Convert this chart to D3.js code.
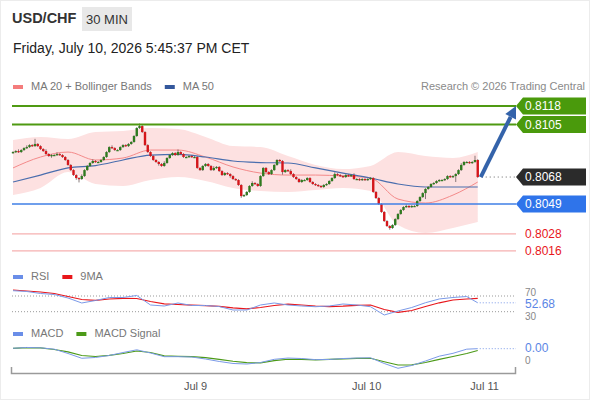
<!DOCTYPE html>
<html>
<head>
<meta charset="utf-8">
<script src="https://cdn.jsdelivr.net/npm/d3@7"></script>
<style>
  body { margin: 0; background: #fff; font-family: "Liberation Sans", Arial, sans-serif; }
</style>
</head>
<body>
<script>
// 30 min candles, closes (open = previous close)
var firstOpen = 0.80850;
var closes = [
  0.80856,0.80863,0.80856,0.80870,0.80884,0.80891,0.80905,0.80898,0.80913,0.80898,
  0.80877,0.80863,0.80842,0.80828,0.80835,0.80835,0.80842,0.80835,0.80821,0.80800,
  0.80765,0.80729,0.80694,0.80673,0.80666,0.80687,0.80729,0.80758,0.80779,0.80793,
  0.80786,0.80786,0.80800,0.80821,0.80856,0.80891,0.80884,0.80870,0.80870,0.80891,
  0.80905,0.80898,0.80913,0.80927,0.80969,0.81025,0.81039,0.80997,0.80905,0.80856,
  0.80828,0.80800,0.80786,0.80772,0.80758,0.80779,0.80814,0.80835,0.80849,0.80835,
  0.80856,0.80842,0.80821,0.80821,0.80828,0.80821,0.80821,0.80744,0.80729,0.80758,
  0.80772,0.80758,0.80729,0.80744,0.80751,0.80722,0.80694,0.80708,0.80701,0.80687,
  0.80666,0.80659,0.80624,0.80546,0.80553,0.80575,0.80617,0.80638,0.80631,0.80617,
  0.80687,0.80744,0.80715,0.80701,0.80729,0.80765,0.80800,0.80793,0.80715,0.80729,
  0.80722,0.80701,0.80680,0.80666,0.80645,0.80659,0.80659,0.80673,0.80645,0.80631,
  0.80624,0.80617,0.80610,0.80624,0.80631,0.80652,0.80673,0.80701,0.80694,0.80687,
  0.80680,0.80694,0.80687,0.80694,0.80666,0.80666,0.80659,0.80666,0.80659,0.80666,
  0.80673,0.80575,0.80532,0.80490,0.80434,0.80370,0.80335,0.80321,0.80342,0.80384,
  0.80420,0.80448,0.80469,0.80476,0.80469,0.80476,0.80476,0.80511,0.80539,0.80567,
  0.80596,0.80610,0.80631,0.80638,0.80652,0.80659,0.80659,0.80666,0.80687,0.80680,
  0.80687,0.80701,0.80729,0.80765,0.80786,0.80786,0.80779,0.80786,0.80800,0.80680
];
// wick lengths beyond the body, in pips
var wickHi = [
  1,1,2,1,1,2,1,1,6,1, 1,1,2,1,1,1,2,1,1,1, 1,1,1,1,1,2,1,1,1,2, 1,1,1,1,1,1,2,1,1,1,
  1,1,1,1,1,1,3,1,1,1, 1,1,1,1,1,2,1,1,1,1, 3,1,1,1,1,1,1,1,1,1, 1,1,1,2,1,1,1,1,1,1,
  1,1,1,1,1,1,1,2,1,1, 1,1,1,1,1,1,1,1,1,1, 1,2,1,1,1,1,1,1,1,1, 1,1,1,1,1,1,1,2,1,1,
  1,1,1,1,2,1,1,1,1,1, 1,1,1,1,1,1,1,1,1,1, 1,1,1,2,1,1,1,1,1,1, 1,1,1,1,1,1,1,1,1,1,
  1,1,1,2,1,1,1,1,5,1
];
var wickLo = [
  1,1,1,1,1,1,1,1,1,1, 1,1,1,1,2,1,1,1,1,1, 1,1,1,2,4,1,1,1,1,1, 1,1,1,1,1,1,1,1,1,1,
  1,1,1,1,1,1,1,1,1,1, 1,1,1,2,1,1,1,1,1,1, 1,1,1,1,1,1,1,1,1,1, 1,1,1,1,1,1,1,1,1,2,
  1,1,1,2,1,1,1,1,1,1, 1,1,1,1,1,1,1,1,3,1, 1,1,1,1,1,1,1,1,1,1, 1,1,1,1,1,1,1,1,1,1,
  1,1,1,1,1,1,1,1,1,1, 1,1,1,1,1,1,1,2,1,1, 1,1,1,1,1,1,1,1,1,1, 7,1,1,1,1,1,1,1,1,1,
  1,7,1,1,1,1,1,1,1,1
];

// MA 20, Bollinger bands and MA 50 read every 10 bars
var bandBars = [0,10,20,30,40,50,60,70,80,90,100,110,120,130,140,150,160,169];
var ma20    = [0.80744,0.80821,0.80856,0.80800,0.80814,0.80870,0.80870,0.80821,0.80751,0.80708,0.80694,0.80694,0.80687,0.80673,0.80525,0.80497,0.80553,0.80645];
var ma50    = [0.80645,0.80694,0.80744,0.80761,0.80800,0.80835,0.80839,0.80821,0.80793,0.80782,0.80779,0.80744,0.80708,0.80673,0.80631,0.80610,0.80610,0.80610];
var bbUpper = [0.80941,0.80962,0.80948,0.80997,0.81004,0.81025,0.81018,0.80962,0.80898,0.80891,0.80828,0.80765,0.80736,0.80758,0.80856,0.80828,0.80814,0.80856];
var bbLower = [0.80553,0.80603,0.80715,0.80631,0.80617,0.80659,0.80680,0.80652,0.80603,0.80582,0.80575,0.80589,0.80603,0.80582,0.80342,0.80286,0.80321,0.80363];

// oscillators read every 5 bars
var oscBars = [0,5,10,15,20,25,30,35,40,45,50,55,60,65,70,75,80,85,90,95,100,105,110,115,120,125,130,135,140,145,150,155,160,165,169];
var rsi   = [83.5,81.5,76.4,73.8,64.9,52.2,58.5,66.2,66.2,71.3,47.1,44.5,52.2,45.8,45.8,43.2,34.3,34.3,47.1,52.2,47.1,44.5,42.7,44.5,49.6,47.1,42.7,21.6,31.8,40.7,52.9,62.4,66.2,68.7,52.68];
var rsiMa = [85.3,82.7,80.2,76.4,68.7,61.1,59.0,62.4,64.1,63.6,56.0,50.1,48.3,46.6,45.3,43.5,39.9,37.4,40.7,45.8,49.1,47.1,44.5,43.0,44.0,46.3,47.1,35.6,28.5,33.1,43.2,52.7,59.8,62.4,64.1];
var macd = [0.000109,0.000119,0.000115,0.000098,0.000044,-0.000016,-0.000006,0.000019,0.000056,0.000090,0.000050,0.000004,0.000004,0.000000,-0.000025,-0.000056,-0.000081,-0.000088,-0.000069,-0.000029,-0.000013,-0.000019,-0.000033,-0.000031,-0.000019,-0.000013,-0.000010,-0.000081,-0.000141,-0.000106,-0.000050,0.000010,0.000046,0.000098,0.000104];
var macdSignal = [0.000109,0.000118,0.000113,0.000094,0.000063,0.000019,0.000006,0.000021,0.000044,0.000075,0.000056,0.000015,0.000009,0.000004,-0.000009,-0.000029,-0.000053,-0.000071,-0.000073,-0.000046,-0.000028,-0.000030,-0.000035,-0.000030,-0.000023,-0.000016,-0.000016,-0.000059,-0.000100,-0.000098,-0.000069,-0.000029,0.000006,0.000044,0.000081];

var resistances = [0.8118, 0.8105];
var support = 0.8049;
var minorSupports = [0.8028, 0.8016];
var lastPrice = 0.8068;

var dateTicks = [66.2, 128.4, 171.3];
var dateLabels = ["Jul 9", "Jul 10", "Jul 11"];

var svg = d3.select("body").append("svg")
    .attr("width", 590)
    .attr("height", 400)
    .style("font-family", "'Liberation Sans', Arial, sans-serif");

svg.append("rect")
    .attr("x", 0.5).attr("y", 0.5)
    .attr("width", 589).attr("height", 399)
    .attr("fill", "#fff")
    .attr("stroke", "#ececec");

var x = d3.scaleLinear().domain([-0.73, 182.55]).range([11, 515]);
var y = d3.scaleLinear().domain([0.8000, 0.8130]).range([273.6, 89.0]);
var yRsi = d3.scaleLinear().domain([30, 70]).range([311.7, 296]);
var yMacd = d3.scaleLinear().domain([-0.0001, 0.0001]).range([365, 349]);
var pip = 0.0001;
var last = closes.length - 1;

// header
svg.append("text").attr("x", 12).attr("y", 23)
    .attr("font-size", 14.5).attr("font-weight", "bold").attr("fill", "#333")
    .text("USD/CHF");
svg.append("rect").attr("x", 82).attr("y", 7).attr("width", 50).attr("height", 24)
    .attr("fill", "#e8e8e8");
svg.append("text").attr("x", 107).attr("y", 24).attr("text-anchor", "middle")
    .attr("font-size", 13).attr("fill", "#333").text("30 MIN");
svg.append("text").attr("x", 13).attr("y", 53)
    .attr("font-size", 14).attr("fill", "#222")
    .text("Friday, July 10, 2026 5:45:37 PM CET");

function legend(items, ly) {
  var lx = 13;
  items.forEach(function(it) {
    svg.append("rect").attr("x", lx).attr("y", ly - 5).attr("width", 10).attr("height", 4)
        .attr("fill", it[1]);
    var t = svg.append("text").attr("x", lx + 18).attr("y", ly)
        .attr("font-size", 11).attr("fill", "#777").text(it[0]);
    lx += 18 + t.node().getComputedTextLength() + 13;
  });
}
legend([["MA 20 + Bollinger Bands", "#f47c7c"], ["MA 50", "#34589c"]], 90);
legend([["RSI", "#6a8ee8"], ["9MA", "#e8161b"]], 280);
legend([["MACD", "#6a8ee8"], ["MACD Signal", "#4c9a18"]], 337);

svg.append("text").attr("x", 585).attr("y", 90).attr("text-anchor", "end")
    .attr("font-size", 11).attr("fill", "#8a8a8a")
    .text("Research \u00a9 2026 Trading Central");

// Bollinger band + moving averages
var band = bandBars.map(function(b, i) { return { b: b, up: bbUpper[i], lo: bbLower[i], m20: ma20[i], m50: ma50[i] }; });
svg.append("path").datum(band)
    .attr("fill", "#fde1e1")
    .attr("d", d3.area().curve(d3.curveMonotoneX)
        .x(function(d) { return x(d.b); })
        .y0(function(d) { return y(d.lo); })
        .y1(function(d) { return y(d.up); }));
svg.append("path").datum(band)
    .attr("fill", "none").attr("stroke", "#f48a8a").attr("stroke-width", 1)
    .attr("d", d3.line().curve(d3.curveMonotoneX)
        .x(function(d) { return x(d.b); }).y(function(d) { return y(d.m20); }));
svg.append("path").datum(band)
    .attr("fill", "none").attr("stroke", "#4a6eae").attr("stroke-width", 1.2)
    .attr("d", d3.line().curve(d3.curveMonotoneX)
        .x(function(d) { return x(d.b); }).y(function(d) { return y(d.m50); }));

// candles
var candles = closes.map(function(c, i) {
  var o = i === 0 ? firstOpen : closes[i - 1];
  return { i: i, o: o, c: c,
           h: Math.max(o, c) + wickHi[i] * pip * 0.6,
           l: Math.min(o, c) - wickLo[i] * pip * 0.6 };
});
var cg = svg.append("g");
cg.selectAll("line").data(candles).enter().append("line")
    .attr("x1", function(d) { return x(d.i); })
    .attr("x2", function(d) { return x(d.i); })
    .attr("y1", function(d) { return y(d.h); })
    .attr("y2", function(d) { return y(d.l); })
    .attr("stroke", "#6b5a5a").attr("stroke-width", 0.8);
cg.selectAll("rect").data(candles).enter().append("rect")
    .attr("x", function(d) { return x(d.i) - 1.2; })
    .attr("width", 2.4)
    .attr("y", function(d) { return y(Math.max(d.o, d.c)); })
    .attr("height", function(d) { return Math.max(1.2, Math.abs(y(d.o) - y(d.c))); })
    .attr("fill", function(d) { return d.c >= d.o ? "#2f7a1f" : "#d4161b"; });

// level lines
var x0 = 12, x1 = 516;
svg.selectAll(".res").data(resistances).enter().append("line")
    .attr("x1", x0).attr("x2", x1)
    .attr("y1", function(d) { return y(d); }).attr("y2", function(d) { return y(d); })
    .attr("stroke", "#4f9a12").attr("stroke-width", 2);
svg.append("line").attr("x1", x0).attr("x2", x1)
    .attr("y1", y(support)).attr("y2", y(support))
    .attr("stroke", "#3f7fe6").attr("stroke-width", 1.4);
svg.selectAll(".minor").data(minorSupports).enter().append("line")
    .attr("x1", x0).attr("x2", x1)
    .attr("y1", function(d) { return y(d); }).attr("y2", function(d) { return y(d); })
    .attr("stroke", "#f6b0b0").attr("stroke-width", 1.2);
svg.append("line").attr("x1", x(last) + 4).attr("x2", x1)
    .attr("y1", y(lastPrice)).attr("y2", y(lastPrice))
    .attr("stroke", "#666").attr("stroke-dasharray", "1,3");

function tag(v, fill) {
  var cy = y(v);
  svg.append("path")
      .attr("d", "M516," + cy + "L523," + (cy - 8.5) + "H586V" + (cy + 8.5) + "H523Z")
      .attr("fill", fill);
  svg.append("text").attr("x", 525).attr("y", cy + 4.3)
      .attr("font-size", 12).attr("fill", "#fff").text(d3.format(".4f")(v));
}
resistances.forEach(function(v) { tag(v, "#4a9a0c"); });
tag(lastPrice, "#2b2b2b");
tag(support, "#2f74ea");
minorSupports.forEach(function(v) {
  svg.append("text").attr("x", 525).attr("y", y(v) + 4.3)
      .attr("font-size", 12).attr("fill", "#e8161b").text(d3.format(".4f")(v));
});

// target arrow
var ax0 = x(last) + 3, ay0 = y(lastPrice);
var ax1 = 516, ay1 = y(resistances[0]);
var ang = Math.atan2(ay1 - ay0, ax1 - ax0);
var hx = ax1 - 12 * Math.cos(ang), hy = ay1 - 12 * Math.sin(ang);
svg.append("line").attr("x1", ax0).attr("y1", ay0).attr("x2", hx).attr("y2", hy)
    .attr("stroke", "#3463aa").attr("stroke-width", 4);
svg.append("path")
    .attr("d", "M" + ax1 + "," + ay1 +
      "L" + (hx + 6 * Math.sin(ang)) + "," + (hy - 6 * Math.cos(ang)) +
      "L" + (hx - 6 * Math.sin(ang)) + "," + (hy + 6 * Math.cos(ang)) + "Z")
    .attr("fill", "#3463aa");

// RSI panel
[[70, -0.5], [30, 8.5]].forEach(function(p) {
  var v = p[0];
  svg.append("line").attr("x1", x0).attr("x2", x1).attr("y1", yRsi(v)).attr("y2", yRsi(v))
      .attr("stroke", "#999").attr("stroke-dasharray", "1,2");
  svg.append("text").attr("x", 525).attr("y", yRsi(v) + p[1]).attr("font-size", 10)
      .attr("fill", "#888").text(v);
});
var rsiPts = oscBars.map(function(b, i) { return { b: b, r: rsi[i], m: rsiMa[i] }; });
svg.append("path").datum(rsiPts).attr("fill", "none").attr("stroke", "#e8161b").attr("stroke-width", 1.2)
    .attr("d", d3.line().x(function(d) { return x(d.b); }).y(function(d) { return yRsi(d.m); }));
svg.append("path").datum(rsiPts).attr("fill", "none").attr("stroke", "#7b9ae8").attr("stroke-width", 1)
    .attr("d", d3.line().x(function(d) { return x(d.b); }).y(function(d) { return yRsi(d.r); }));
var rLast = rsi[rsi.length - 1];
svg.append("line").attr("x1", x(last) + 2).attr("x2", x1).attr("y1", yRsi(rLast)).attr("y2", yRsi(rLast))
    .attr("stroke", "#7b9ae8").attr("stroke-dasharray", "1,2");
svg.append("text").attr("x", 525).attr("y", yRsi(rLast) + 4.8).attr("font-size", 12)
    .attr("fill", "#5b86e5").text(d3.format(".2f")(rLast));

// MACD panel
svg.append("text").attr("x", 525).attr("y", yMacd(0) + 6.5).attr("font-size", 10)
    .attr("fill", "#888").text("0");
var macdPts = oscBars.map(function(b, i) { return { b: b, m: macd[i], s: macdSignal[i] }; });
svg.append("path").datum(macdPts).attr("fill", "none").attr("stroke", "#4c9a18").attr("stroke-width", 1.2)
    .attr("d", d3.line().x(function(d) { return x(d.b); }).y(function(d) { return yMacd(d.s); }));
svg.append("path").datum(macdPts).attr("fill", "none").attr("stroke", "#7b9ae8").attr("stroke-width", 1)
    .attr("d", d3.line().x(function(d) { return x(d.b); }).y(function(d) { return yMacd(d.m); }));
var mLast = macd[macd.length - 1];
svg.append("line").attr("x1", x(last) + 2).attr("x2", x1).attr("y1", yMacd(mLast)).attr("y2", yMacd(mLast))
    .attr("stroke", "#7b9ae8").attr("stroke-dasharray", "1,2");
svg.append("text").attr("x", 525).attr("y", yMacd(mLast) + 3.2).attr("font-size", 12)
    .attr("fill", "#5b86e5").text(d3.format(".2f")(Math.abs(mLast)));

// time axis
var axis = svg.append("g").attr("transform", "translate(0,373)")
    .call(d3.axisBottom(x).tickValues(dateTicks)
      .tickFormat(function(d, i) { return dateLabels[i]; })
      .tickSize(0).tickSizeOuter(-6).tickPadding(9));
axis.select(".domain").attr("stroke", "#9a9a9a").attr("stroke-width", 1.5);
axis.selectAll("text").attr("font-size", 11).attr("fill", "#555")
    .attr("font-family", "'Liberation Sans', Arial, sans-serif");
</script>
</body>
</html>
